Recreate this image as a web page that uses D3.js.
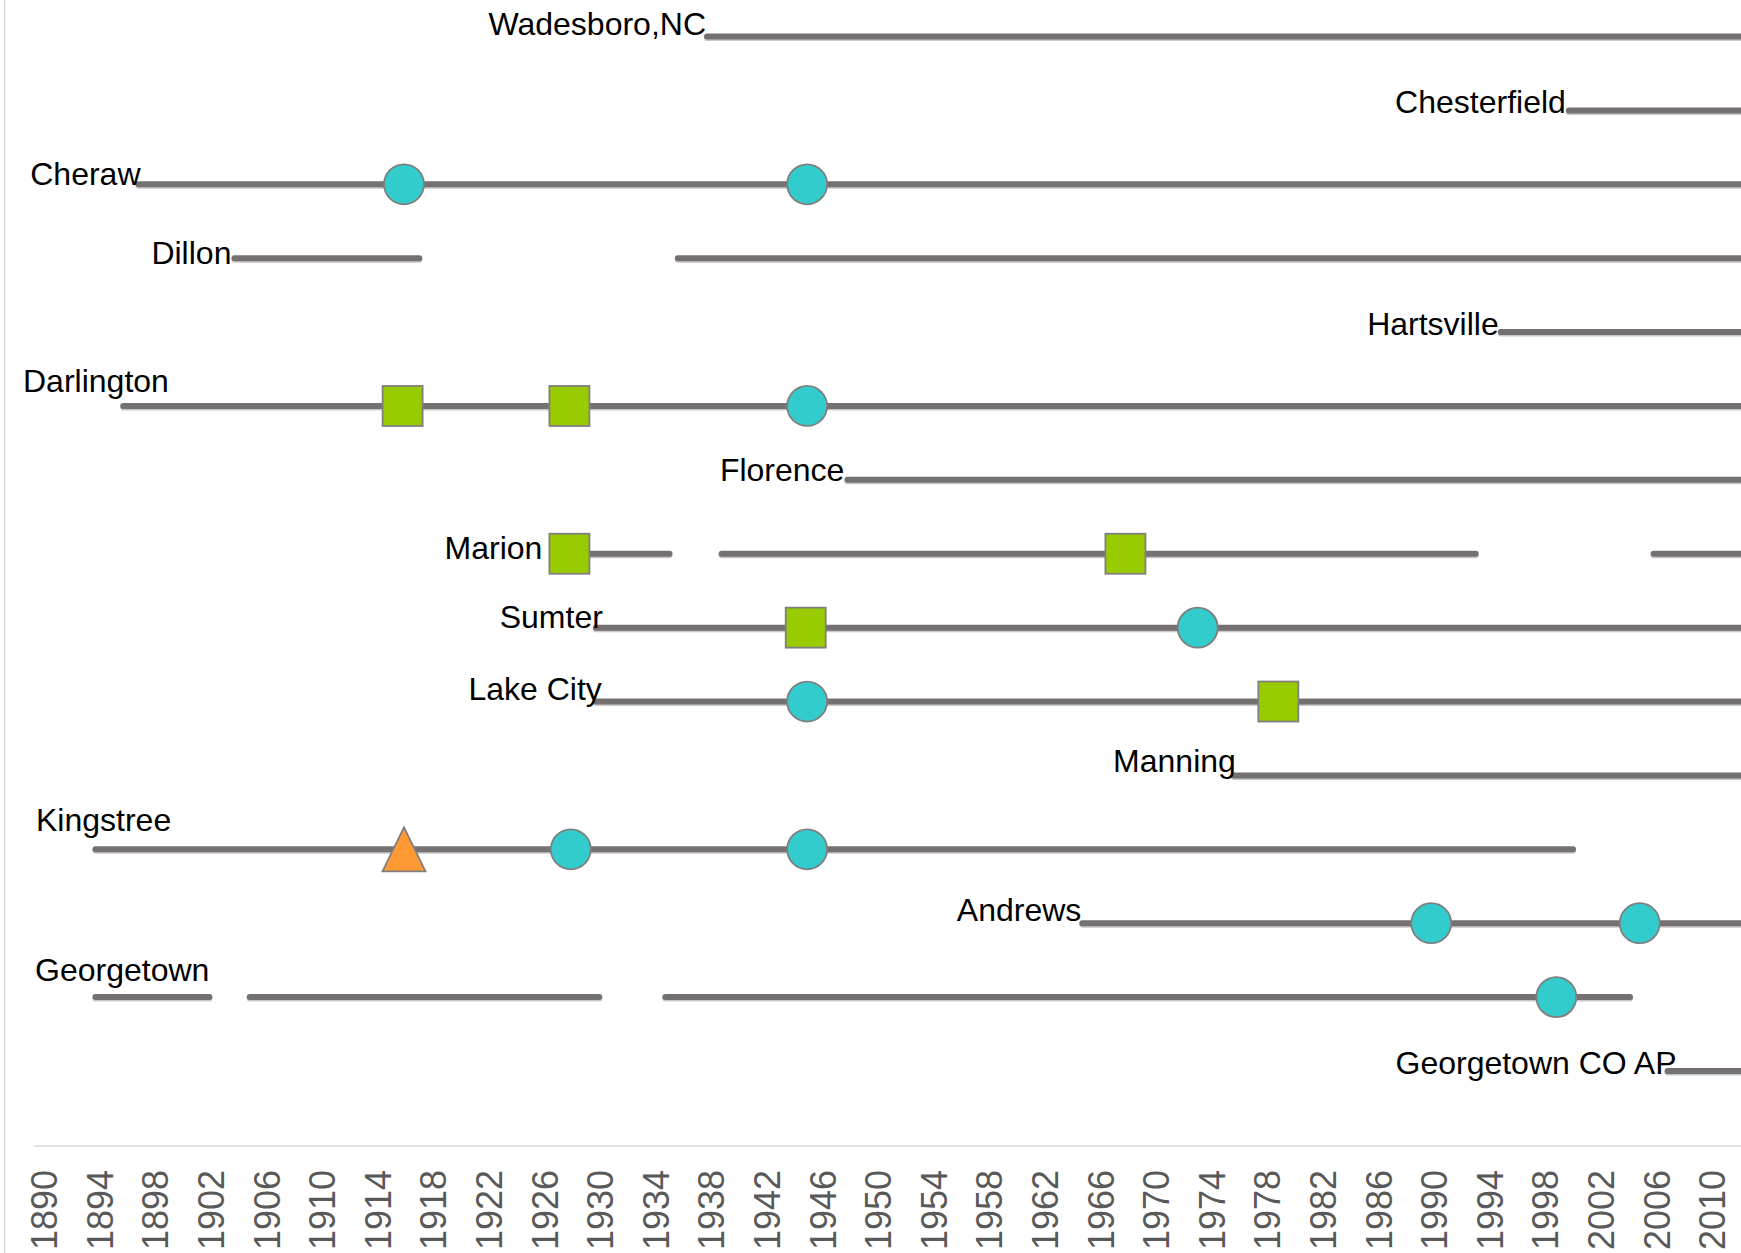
<!DOCTYPE html>
<html>
<head>
<meta charset="utf-8">
<script src="https://cdn.jsdelivr.net/npm/d3@7"></script>
<style>
  html, body { margin: 0; padding: 0; background: #ffffff; }
  svg { display: block; }
</style>
</head>
<body>
<div id="chart"></div>
<script>
// ---------- DATA ----------
const stations = ["Wadesboro,NC", "Chesterfield", "Cheraw", "Dillon", "Hartsville",
  "Darlington", "Florence", "Marion", "Sumter", "Lake City", "Manning",
  "Kingstree", "Andrews", "Georgetown", "Georgetown CO AP"];

// record periods [startYear, endYear] per station (2013 = still running, beyond chart edge)
const recordPeriods = [
  [[1937.7, 2013]],
  [[1999.7, 2013]],
  [[1896.8, 2013]],
  [[1903.7, 1917.0], [1935.6, 2013]],
  [[1994.8, 2013]],
  [[1895.7, 2013]],
  [[1947.8, 2013]],
  [[1927.8, 1935.0], [1938.75, 1993.0], [2005.8, 2013]],
  [[1929.7, 2013]],
  [[1929.7, 2013]],
  [[1975.6, 2013]],
  [[1893.7, 2000.0]],
  [[1964.7, 2013]],
  [[1893.7, 1901.9], [1904.8, 1929.95], [1934.7, 2004.1]],
  [[2006.8, 2013]]
];

const circleEvents = [["Cheraw", 1915.9], ["Cheraw", 1944.9], ["Darlington", 1944.9],
  ["Sumter", 1973.0], ["Lake City", 1944.9], ["Kingstree", 1927.9], ["Kingstree", 1944.9],
  ["Andrews", 1989.8], ["Andrews", 2004.8], ["Georgetown", 1998.8]];
const squareEvents = [["Darlington", 1915.8], ["Darlington", 1927.8], ["Marion", 1927.8],
  ["Marion", 1967.8], ["Sumter", 1944.8], ["Lake City", 1978.8]];
const triangleEvents = [["Kingstree", 1915.9]];

const tickYears = [1890, 1894, 1898, 1902, 1906, 1910, 1914, 1918, 1922, 1926, 1930,
  1934, 1938, 1942, 1946, 1950, 1954, 1958, 1962, 1966, 1970, 1974, 1978, 1982,
  1986, 1990, 1994, 1998, 2002, 2006, 2010];

// ---------- LAYOUT (label placement) ----------
// anchor 'end': x relative to first period start; anchor 'start': absolute x
const labelLayout = [
  {anchor: "end", dx: -1, dy: -2},
  {anchor: "end", dx: -3, dy: 3},
  {anchor: "end", dx: 2, dy: 1},
  {anchor: "end", dx: -3, dy: 6},
  {anchor: "end", dx: -2, dy: 3},
  {anchor: "start", x: 23, dy: -14},
  {anchor: "end", dx: -3, dy: 1},
  {anchor: "end", dx: -27, dy: 5},
  {anchor: "end", dx: 7, dy: 0},
  {anchor: "end", dx: 6, dy: -2},
  {anchor: "end", dx: 2, dy: -3},
  {anchor: "start", x: 36, dy: -18},
  {anchor: "end", dx: -1, dy: -2},
  {anchor: "start", x: 35, dy: -16.5},
  {anchor: "end", dx: 9, dy: 3}
];

// ---------- CHART ----------
const W = 1741, H = 1253;
const svg = d3.select("#chart").append("svg").attr("width", W).attr("height", H);
svg.append("rect").attr("width", W).attr("height", H).attr("fill", "#ffffff");

const x = d3.scaleLinear().domain([1890, 2010]).range([44, 1712]);
const y = d3.scalePoint().domain(stations).range([36.5, 1071]);

const lineColor = "#767171";
const edgeColor = "#7f7f7f";

// frame lines
svg.append("line").attr("x1", 4.5).attr("x2", 4.5).attr("y1", 0).attr("y2", H)
  .attr("stroke", "#d9d9d9").attr("stroke-width", 1.5);
const axisY = 1146;
svg.append("line").attr("x1", 34).attr("x2", W).attr("y1", axisY).attr("y2", axisY)
  .attr("stroke", "#d9d9d9").attr("stroke-width", 1.5);

// axis
const axis = d3.axisBottom(x).tickValues(tickYears).tickSize(0).tickFormat(d3.format("d"));
const gAxis = svg.append("g").attr("transform", `translate(0,${axisY})`).call(axis);
gAxis.select(".domain").remove();
gAxis.selectAll("text")
  .attr("y", 0).attr("x", -24).attr("dy", "0.35em")
  .attr("transform", "rotate(-90)")
  .style("text-anchor", "end")
  .style("font-family", "'Liberation Sans', Arial, sans-serif")
  .style("font-size", "36px")
  .attr("fill", "#595959");

// segments
const segData = [];
stations.forEach((s, i) => recordPeriods[i].forEach(p => segData.push({s, a: p[0], b: p[1]})));

svg.append("g").selectAll("line").data(segData).join("line")
  .attr("x1", d => x(d.a)).attr("x2", d => x(d.b))
  .attr("y1", d => y(d.s) + 1.5).attr("y2", d => y(d.s) + 1.5)
  .attr("stroke", "#c9c7c7").attr("stroke-width", 6).attr("stroke-linecap", "round");

svg.append("g").selectAll("line").data(segData).join("line")
  .attr("x1", d => x(d.a)).attr("x2", d => x(d.b))
  .attr("y1", d => y(d.s)).attr("y2", d => y(d.s))
  .attr("stroke", lineColor).attr("stroke-width", 6).attr("stroke-linecap", "round");

// labels
svg.append("g").selectAll("text").data(stations).join("text")
  .attr("x", (s, i) => {
    const L = labelLayout[i];
    return L.anchor === "start" ? L.x : x(recordPeriods[i][0][0]) + L.dx;
  })
  .attr("y", (s, i) => y(s) + labelLayout[i].dy)
  .attr("text-anchor", (s, i) => labelLayout[i].anchor)
  .style("font-family", "'Liberation Sans', Arial, sans-serif")
  .style("font-size", "32px")
  .attr("fill", "#000000")
  .text(s => s);

// markers
const markerStroke = 1.8;
svg.append("g").selectAll("circle").data(circleEvents).join("circle")
  .attr("cx", d => x(d[1])).attr("cy", d => y(d[0])).attr("r", 20)
  .attr("fill", "#33CCCC").attr("stroke", edgeColor).attr("stroke-width", markerStroke);

const sq = 40;
svg.append("g").selectAll("rect").data(squareEvents).join("rect")
  .attr("x", d => x(d[1]) - sq / 2).attr("y", d => y(d[0]) - sq / 2)
  .attr("width", sq).attr("height", sq)
  .attr("fill", "#99CC00").attr("stroke", edgeColor).attr("stroke-width", markerStroke);

svg.append("g").selectAll("path").data(triangleEvents).join("path")
  .attr("d", d => {
    const cx = x(d[1]), cy = y(d[0]);
    return `M${cx},${cy - 22}L${cx + 21.5},${cy + 22}L${cx - 21.5},${cy + 22}Z`;
  })
  .attr("fill", "#FF9933").attr("stroke", edgeColor).attr("stroke-width", markerStroke);
</script>
</body>
</html>
